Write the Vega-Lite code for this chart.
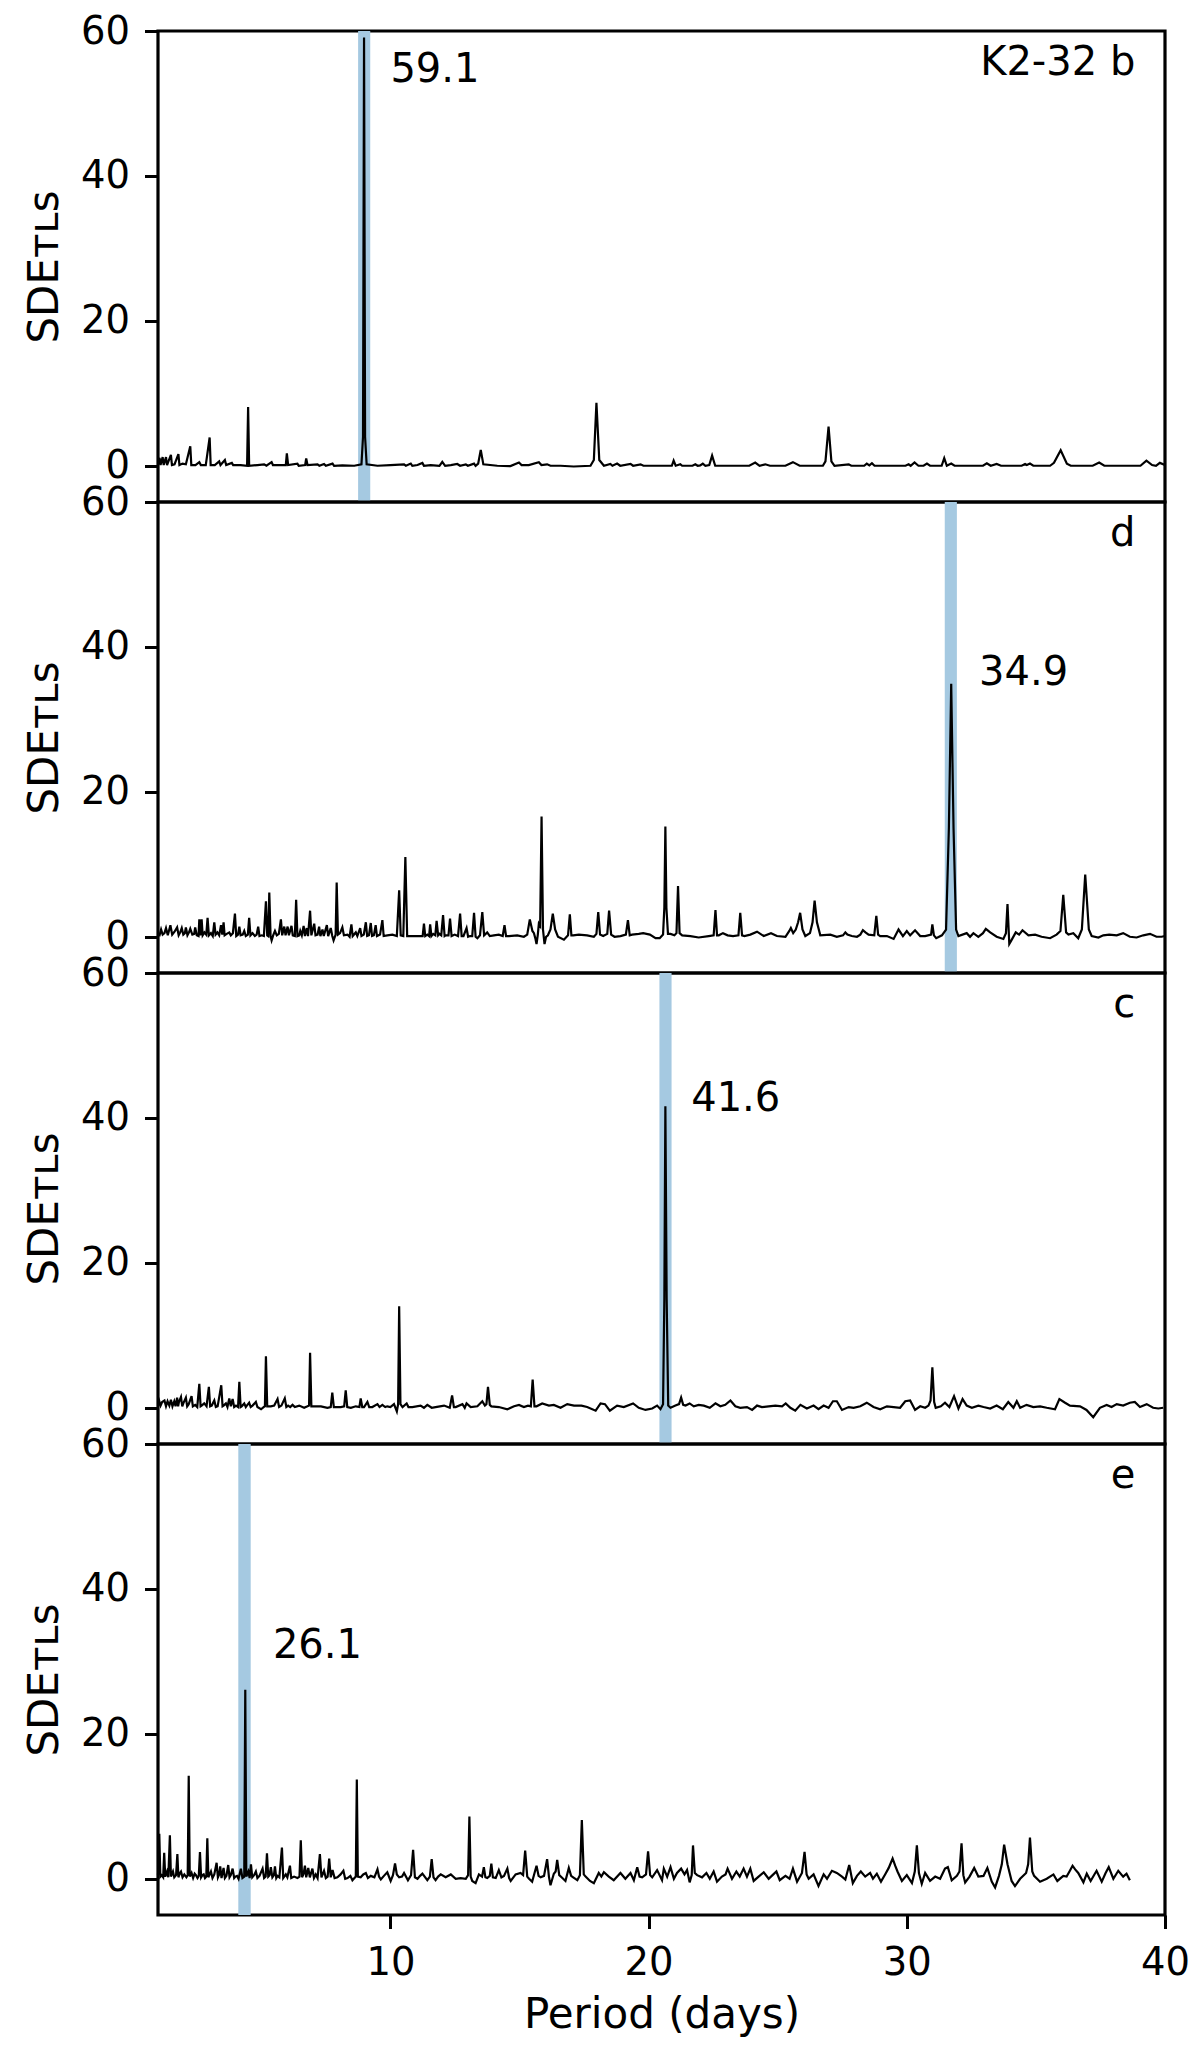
{
  "$schema": "https://vega.github.io/schema/vega-lite/v6.json",
  "padding": {"left": 21, "top": 10, "right": 12, "bottom": 10},
  "spacing": 0,
  "bounds": "flush",
  "config": {
    "font": "DejaVu Sans",
    "view": {"stroke": "black", "strokeWidth": 3.2},
    "axis": {
      "grid": false, "domain": false,
      "tickColor": "black", "tickWidth": 3, "tickSize": 13.5,
      "labelColor": "black", "labelFontSize": 38.5, "labelFlush": false, "labelOverlap": false,
      "titleColor": "black", "titleFontSize": 42, "titleFontWeight": "normal"
    },
    "text": {"fontSize": 40, "color": "black"}
  },
  "datasets": {
    "bands": [
      {"planet": "b", "lo": 8.75, "hi": 9.22},
      {"planet": "d", "lo": 31.47, "hi": 31.94},
      {"planet": "c", "lo": 20.42, "hi": 20.89},
      {"planet": "e", "lo": 4.11, "hi": 4.59}
    ],
    "notes": [
      {"planet": "b", "period": 10.0, "sde": 53.0, "label": "59.1"},
      {"planet": "d", "period": 32.8, "sde": 34.7, "label": "34.9"},
      {"planet": "c", "period": 21.65, "sde": 40.9, "label": "41.6"},
      {"planet": "e", "period": 5.45, "sde": 30.5, "label": "26.1"}
    ],
    "names": [
      {"planet": "b", "period": 38.85, "sde": 53.9, "label": "K2-32 b"},
      {"planet": "d", "period": 38.85, "sde": 53.9, "label": "d"},
      {"planet": "c", "period": 38.85, "sde": 53.9, "label": "c"},
      {"planet": "e", "period": 38.85, "sde": 53.9, "label": "e"}
    ],
    "tls_b": [
      {"period":1.00,"sde":0.1},{"period":1.06,"sde":1.1},{"period":1.10,"sde":0.1},{"period":1.18,"sde":1.2},{"period":1.22,"sde":0.1},{"period":1.31,"sde":1.2},{"period":1.35,"sde":0.1},{"period":1.50,"sde":1.5},{"period":1.54,"sde":0.1},{"period":1.64,"sde":0.2},{"period":1.79,"sde":1.6},{"period":1.83,"sde":0.1},{"period":1.95,"sde":0.3},{"period":2.08,"sde":0.2},{"period":2.25,"sde":2.7},{"period":2.29,"sde":0.1},{"period":2.45,"sde":0.1},{"period":2.60,"sde":0.5},{"period":2.66,"sde":0.1},{"period":2.85,"sde":0.1},{"period":3.00,"sde":3.9},{"period":3.04,"sde":0.1},{"period":3.20,"sde":0.1},{"period":3.37,"sde":0.6},{"period":3.42,"sde":0.1},{"period":3.59,"sde":0.8},{"period":3.64,"sde":0.1},{"period":3.86,"sde":0.4},{"period":3.91,"sde":0.1},{"period":4.20,"sde":0.1},{"period":4.45,"sde":0.0},{"period":4.49,"sde":8.1},{"period":4.53,"sde":0.0},{"period":4.85,"sde":0.1},{"period":5.11,"sde":0.2},{"period":5.20,"sde":0.0},{"period":5.40,"sde":0.5},{"period":5.45,"sde":0.1},{"period":5.70,"sde":0.1},{"period":5.95,"sde":0.1},{"period":5.99,"sde":1.7},{"period":6.04,"sde":0.1},{"period":6.40,"sde":0.3},{"period":6.45,"sde":0.0},{"period":6.70,"sde":0.1},{"period":6.74,"sde":1.0},{"period":6.79,"sde":0.1},{"period":7.18,"sde":0.2},{"period":7.25,"sde":0.0},{"period":7.43,"sde":0.25},{"period":7.50,"sde":0.0},{"period":7.76,"sde":0.3},{"period":7.82,"sde":0.0},{"period":8.14,"sde":0.05},{"period":8.60,"sde":0.0},{"period":8.88,"sde":0.2},{"period":8.94,"sde":4},{"period":8.98,"sde":59.1},{"period":9.02,"sde":4},{"period":9.08,"sde":0.2},{"period":9.50,"sde":0.0},{"period":10.0,"sde":0.1},{"period":10.53,"sde":0.2},{"period":10.6,"sde":0.0},{"period":10.79,"sde":0.3},{"period":10.85,"sde":0.0},{"period":11.05,"sde":0.1},{"period":11.24,"sde":0.4},{"period":11.3,"sde":0.0},{"period":11.56,"sde":0.1},{"period":11.9,"sde":0.0},{"period":12.01,"sde":0.55},{"period":12.12,"sde":0.0},{"period":12.34,"sde":0.1},{"period":12.59,"sde":0.25},{"period":12.7,"sde":0.0},{"period":12.92,"sde":0.2},{"period":13.0,"sde":0.0},{"period":13.24,"sde":0.3},{"period":13.3,"sde":0.0},{"period":13.40,"sde":0.3},{"period":13.50,"sde":2.2},{"period":13.60,"sde":0.2},{"period":14.14,"sde":0.0},{"period":14.65,"sde":-0.05},{"period":14.98,"sde":0.45},{"period":15.08,"sde":0.1},{"period":15.36,"sde":0.1},{"period":15.75,"sde":0.5},{"period":15.85,"sde":0.1},{"period":16.07,"sde":0.2},{"period":16.2,"sde":0.0},{"period":16.59,"sde":0.0},{"period":17.10,"sde":-0.1},{"period":17.75,"sde":0.0},{"period":17.88,"sde":0.8},{"period":17.98,"sde":8.7},{"period":18.09,"sde":0.8},{"period":18.27,"sde":0.0},{"period":18.52,"sde":0.25},{"period":18.6,"sde":0.0},{"period":18.78,"sde":0.3},{"period":18.9,"sde":0.0},{"period":19.30,"sde":0.25},{"period":19.4,"sde":0.0},{"period":19.69,"sde":0.2},{"period":19.8,"sde":0.0},{"period":20.9,"sde":0.0},{"period":20.97,"sde":0.7},{"period":21.05,"sde":0.0},{"period":21.23,"sde":0.2},{"period":21.3,"sde":0.0},{"period":21.7,"sde":0.0},{"period":21.81,"sde":0.2},{"period":21.9,"sde":0.0},{"period":22.0,"sde":0.05},{"period":22.10,"sde":0.3},{"period":22.2,"sde":0.0},{"period":22.35,"sde":0.1},{"period":22.46,"sde":1.4},{"period":22.58,"sde":0.0},{"period":23.9,"sde":0.0},{"period":24.13,"sde":0.45},{"period":24.3,"sde":0.0},{"period":24.52,"sde":0.2},{"period":24.7,"sde":0.0},{"period":25.3,"sde":0.0},{"period":25.59,"sde":0.5},{"period":25.85,"sde":0.0},{"period":26.75,"sde":0.0},{"period":26.85,"sde":0.6},{"period":26.97,"sde":5.4},{"period":27.08,"sde":0.6},{"period":27.2,"sde":0.0},{"period":27.75,"sde":0.2},{"period":27.85,"sde":0.0},{"period":28.35,"sde":0.0},{"period":28.45,"sde":0.3},{"period":28.55,"sde":0.05},{"period":28.65,"sde":0.35},{"period":28.75,"sde":0.0},{"period":29.95,"sde":0.0},{"period":30.07,"sde":0.2},{"period":30.15,"sde":0.0},{"period":30.30,"sde":0.45},{"period":30.45,"sde":0.0},{"period":30.65,"sde":0.0},{"period":30.78,"sde":0.3},{"period":30.9,"sde":0.0},{"period":31.35,"sde":0.0},{"period":31.45,"sde":1.05},{"period":31.55,"sde":0.0},{"period":31.72,"sde":0.3},{"period":31.85,"sde":0.0},{"period":32.95,"sde":0.0},{"period":33.10,"sde":0.35},{"period":33.25,"sde":0.0},{"period":33.48,"sde":0.25},{"period":33.65,"sde":0.0},{"period":34.45,"sde":0.0},{"period":34.58,"sde":0.25},{"period":34.65,"sde":0.1},{"period":34.77,"sde":0.3},{"period":34.9,"sde":0.0},{"period":35.55,"sde":0.0},{"period":35.7,"sde":0.4},{"period":35.96,"sde":2.15},{"period":36.2,"sde":0.3},{"period":36.35,"sde":0.0},{"period":37.2,"sde":0.0},{"period":37.45,"sde":0.45},{"period":37.65,"sde":0.0},{"period":39.05,"sde":0.0},{"period":39.28,"sde":0.7},{"period":39.5,"sde":0.1},{"period":39.65,"sde":0.0},{"period":39.8,"sde":0.4},{"period":40.0,"sde":0.1}
    ],
    "tls_d": [
      {"period":1.00,"sde":0.3},{"period":1.06,"sde":0.2},{"period":1.12,"sde":1.0},{"period":1.18,"sde":0.3},{"period":1.25,"sde":0.5},{"period":1.31,"sde":1.2},{"period":1.38,"sde":0.2},{"period":1.48,"sde":1.6},{"period":1.55,"sde":0.3},{"period":1.64,"sde":0.7},{"period":1.74,"sde":1.3},{"period":1.80,"sde":0.2},{"period":1.86,"sde":0.6},{"period":1.92,"sde":1.2},{"period":1.98,"sde":0.3},{"period":2.04,"sde":0.5},{"period":2.08,"sde":1.3},{"period":2.14,"sde":0.2},{"period":2.20,"sde":0.6},{"period":2.25,"sde":1.1},{"period":2.33,"sde":0.3},{"period":2.40,"sde":0.4},{"period":2.44,"sde":1.3},{"period":2.50,"sde":0.2},{"period":2.57,"sde":0.1},{"period":2.60,"sde":2.4},{"period":2.64,"sde":0.2},{"period":2.69,"sde":2.4},{"period":2.73,"sde":0.2},{"period":2.80,"sde":0.6},{"period":2.87,"sde":0.3},{"period":2.92,"sde":2.6},{"period":2.97,"sde":0.2},{"period":3.05,"sde":0.5},{"period":3.12,"sde":0.1},{"period":3.18,"sde":2.0},{"period":3.23,"sde":0.3},{"period":3.30,"sde":0.6},{"period":3.37,"sde":0.2},{"period":3.44,"sde":1.6},{"period":3.49,"sde":0.3},{"period":3.54,"sde":2.0},{"period":3.58,"sde":0.2},{"period":3.66,"sde":0.4},{"period":3.76,"sde":0.6},{"period":3.82,"sde":0.2},{"period":3.90,"sde":0.5},{"period":3.98,"sde":3.2},{"period":4.03,"sde":0.1},{"period":4.10,"sde":0.3},{"period":4.15,"sde":1.4},{"period":4.20,"sde":0.2},{"period":4.28,"sde":0.3},{"period":4.34,"sde":0.8},{"period":4.40,"sde":0.1},{"period":4.48,"sde":0.3},{"period":4.53,"sde":2.6},{"period":4.58,"sde":0.2},{"period":4.66,"sde":0.5},{"period":4.75,"sde":0.1},{"period":4.82,"sde":0.3},{"period":4.88,"sde":1.4},{"period":4.93,"sde":0.1},{"period":5.02,"sde":0.2},{"period":5.10,"sde":0.1},{"period":5.18,"sde":4.9},{"period":5.23,"sde":0.2},{"period":5.27,"sde":0.1},{"period":5.31,"sde":6.1},{"period":5.36,"sde":0.1},{"period":5.40,"sde":-0.5},{"period":5.46,"sde":0.2},{"period":5.53,"sde":0.8},{"period":5.60,"sde":0.2},{"period":5.68,"sde":0.4},{"period":5.76,"sde":2.4},{"period":5.81,"sde":0.2},{"period":5.89,"sde":1.4},{"period":5.94,"sde":0.2},{"period":6.02,"sde":1.4},{"period":6.07,"sde":0.2},{"period":6.17,"sde":1.5},{"period":6.22,"sde":0.2},{"period":6.30,"sde":0.1},{"period":6.35,"sde":5.1},{"period":6.40,"sde":0.1},{"period":6.47,"sde":0.2},{"period":6.51,"sde":0.8},{"period":6.57,"sde":0.2},{"period":6.64,"sde":1.5},{"period":6.69,"sde":0.1},{"period":6.76,"sde":1.2},{"period":6.81,"sde":0.1},{"period":6.89,"sde":3.6},{"period":6.94,"sde":0.2},{"period":7.05,"sde":1.8},{"period":7.10,"sde":0.2},{"period":7.18,"sde":0.3},{"period":7.24,"sde":1.4},{"period":7.29,"sde":0.1},{"period":7.37,"sde":1.0},{"period":7.42,"sde":0.1},{"period":7.54,"sde":1.6},{"period":7.59,"sde":0.1},{"period":7.69,"sde":1.2},{"period":7.75,"sde":0.1},{"period":7.80,"sde":-0.5},{"period":7.88,"sde":0.3},{"period":7.92,"sde":7.5},{"period":7.97,"sde":0.3},{"period":8.05,"sde":0.5},{"period":8.14,"sde":1.3},{"period":8.20,"sde":0.2},{"period":8.34,"sde":0.3},{"period":8.42,"sde":0.0},{"period":8.49,"sde":1.7},{"period":8.54,"sde":0.1},{"period":8.66,"sde":0.6},{"period":8.72,"sde":0.1},{"period":8.83,"sde":1.2},{"period":8.88,"sde":0.1},{"period":8.97,"sde":0.3},{"period":9.05,"sde":2.0},{"period":9.10,"sde":0.1},{"period":9.17,"sde":0.2},{"period":9.24,"sde":1.9},{"period":9.29,"sde":0.1},{"period":9.36,"sde":0.2},{"period":9.43,"sde":1.6},{"period":9.48,"sde":0.1},{"period":9.60,"sde":0.3},{"period":9.69,"sde":2.3},{"period":9.74,"sde":0.1},{"period":9.88,"sde":0.2},{"period":10.08,"sde":0.3},{"period":10.25,"sde":0.1},{"period":10.34,"sde":6.4},{"period":10.40,"sde":0.2},{"period":10.50,"sde":0.1},{"period":10.58,"sde":11.0},{"period":10.65,"sde":0.1},{"period":10.72,"sde":0.1},{"period":11.05,"sde":0.1},{"period":11.25,"sde":0.1},{"period":11.30,"sde":1.8},{"period":11.35,"sde":0.1},{"period":11.43,"sde":0.3},{"period":11.50,"sde":0.1},{"period":11.54,"sde":1.7},{"period":11.59,"sde":0.1},{"period":11.66,"sde":0.4},{"period":11.74,"sde":0.2},{"period":11.79,"sde":2.2},{"period":11.85,"sde":0.2},{"period":11.90,"sde":0.4},{"period":11.97,"sde":0.2},{"period":12.04,"sde":3.0},{"period":12.10,"sde":0.1},{"period":12.14,"sde":0.2},{"period":12.25,"sde":0.2},{"period":12.31,"sde":2.5},{"period":12.37,"sde":0.1},{"period":12.49,"sde":0.3},{"period":12.62,"sde":0.1},{"period":12.70,"sde":3.2},{"period":12.76,"sde":0.1},{"period":12.83,"sde":0.1},{"period":12.95,"sde":1.2},{"period":13.01,"sde":0.0},{"period":13.08,"sde":0.1},{"period":13.17,"sde":0.1},{"period":13.24,"sde":3.3},{"period":13.30,"sde":0.0},{"period":13.37,"sde":-0.2},{"period":13.47,"sde":0.2},{"period":13.56,"sde":3.4},{"period":13.63,"sde":0.2},{"period":13.75,"sde":0.6},{"period":13.85,"sde":0.1},{"period":14.01,"sde":0.2},{"period":14.20,"sde":0.3},{"period":14.35,"sde":0.1},{"period":14.42,"sde":1.6},{"period":14.48,"sde":0.1},{"period":14.59,"sde":0.1},{"period":14.91,"sde":0.2},{"period":15.17,"sde":0.0},{"period":15.30,"sde":0.3},{"period":15.40,"sde":2.4},{"period":15.50,"sde":0.8},{"period":15.56,"sde":0.5},{"period":15.62,"sde":-0.3},{"period":15.66,"sde":-1.0},{"period":15.71,"sde":0.3},{"period":15.75,"sde":1.8},{"period":15.80,"sde":1.5},{"period":15.855,"sde":16.6},{"period":15.91,"sde":1.0},{"period":15.97,"sde":-1.0},{"period":16.03,"sde":0.0},{"period":16.10,"sde":0.2},{"period":16.20,"sde":1.0},{"period":16.29,"sde":3.2},{"period":16.38,"sde":1.0},{"period":16.49,"sde":0.0},{"period":16.72,"sde":-0.4},{"period":16.88,"sde":0.2},{"period":16.95,"sde":3.1},{"period":17.01,"sde":0.2},{"period":17.08,"sde":0.2},{"period":17.30,"sde":0.3},{"period":17.62,"sde":0.2},{"period":17.88,"sde":0.0},{"period":17.98,"sde":0.4},{"period":18.05,"sde":3.4},{"period":18.12,"sde":0.3},{"period":18.24,"sde":0.1},{"period":18.40,"sde":0.4},{"period":18.47,"sde":3.6},{"period":18.55,"sde":0.3},{"period":18.68,"sde":0.0},{"period":18.91,"sde":0.1},{"period":19.12,"sde":0.3},{"period":19.20,"sde":2.3},{"period":19.27,"sde":0.2},{"period":19.36,"sde":0.3},{"period":19.62,"sde":0.4},{"period":19.79,"sde":0.5},{"period":20.05,"sde":0.3},{"period":20.27,"sde":-0.2},{"period":20.43,"sde":-0.2},{"period":20.56,"sde":0.3},{"period":20.61,"sde":4},{"period":20.65,"sde":15.2},{"period":20.69,"sde":4},{"period":20.75,"sde":0.4},{"period":20.85,"sde":0.4},{"period":21.00,"sde":0.2},{"period":21.08,"sde":0.5},{"period":21.14,"sde":7.0},{"period":21.20,"sde":0.5},{"period":21.30,"sde":0.2},{"period":21.62,"sde":0.1},{"period":21.94,"sde":-0.1},{"period":22.33,"sde":0.1},{"period":22.52,"sde":0.2},{"period":22.59,"sde":3.7},{"period":22.65,"sde":0.2},{"period":22.72,"sde":0.2},{"period":22.88,"sde":0.5},{"period":23.06,"sde":0.2},{"period":23.27,"sde":0.1},{"period":23.48,"sde":0.2},{"period":23.55,"sde":3.3},{"period":23.62,"sde":0.2},{"period":23.71,"sde":0.1},{"period":23.94,"sde":0.3},{"period":24.20,"sde":0.7},{"period":24.46,"sde":0.1},{"period":24.74,"sde":0.5},{"period":24.97,"sde":0.1},{"period":25.30,"sde":0.0},{"period":25.45,"sde":0.8},{"period":25.51,"sde":1.2},{"period":25.60,"sde":0.5},{"period":25.70,"sde":1.0},{"period":25.79,"sde":2.0},{"period":25.87,"sde":3.3},{"period":25.96,"sde":1.0},{"period":26.07,"sde":0.1},{"period":26.25,"sde":0.5},{"period":26.35,"sde":2.0},{"period":26.43,"sde":5.0},{"period":26.52,"sde":2.0},{"period":26.65,"sde":0.2},{"period":27.04,"sde":0.3},{"period":27.29,"sde":0.0},{"period":27.53,"sde":0.2},{"period":27.62,"sde":0.6},{"period":27.70,"sde":0.3},{"period":27.87,"sde":0.1},{"period":28.07,"sde":0.0},{"period":28.20,"sde":0.3},{"period":28.30,"sde":0.9},{"period":28.40,"sde":0.6},{"period":28.52,"sde":0.3},{"period":28.74,"sde":0.2},{"period":28.82,"sde":2.9},{"period":28.89,"sde":0.3},{"period":28.97,"sde":0.1},{"period":29.23,"sde":0.1},{"period":29.49,"sde":-0.3},{"period":29.68,"sde":1.0},{"period":29.85,"sde":0.1},{"period":30.00,"sde":0.8},{"period":30.13,"sde":0.2},{"period":30.32,"sde":0.9},{"period":30.52,"sde":0.1},{"period":30.71,"sde":0.1},{"period":30.94,"sde":0.3},{"period":30.99,"sde":1.7},{"period":31.05,"sde":0.2},{"period":31.14,"sde":-0.2},{"period":31.36,"sde":0.2},{"period":31.52,"sde":1.0},{"period":31.63,"sde":15},{"period":31.72,"sde":34.9},{"period":31.81,"sde":15},{"period":31.91,"sde":1.0},{"period":32.00,"sde":0.1},{"period":32.32,"sde":0.5},{"period":32.45,"sde":0.0},{"period":32.58,"sde":0.5},{"period":32.77,"sde":0.0},{"period":32.95,"sde":0.5},{"period":33.06,"sde":1.1},{"period":33.23,"sde":0.6},{"period":33.48,"sde":0.0},{"period":33.74,"sde":-0.3},{"period":33.84,"sde":0.5},{"period":33.90,"sde":4.5},{"period":33.97,"sde":-1.0},{"period":34.05,"sde":-0.5},{"period":34.22,"sde":0.6},{"period":34.35,"sde":0.3},{"period":34.48,"sde":0.9},{"period":34.71,"sde":0.2},{"period":34.97,"sde":0.3},{"period":35.22,"sde":0.0},{"period":35.55,"sde":-0.2},{"period":35.80,"sde":0.3},{"period":35.95,"sde":0.8},{"period":36.06,"sde":5.8},{"period":36.17,"sde":0.6},{"period":36.26,"sde":0.3},{"period":36.45,"sde":0.5},{"period":36.64,"sde":-0.2},{"period":36.78,"sde":1.0},{"period":36.91,"sde":8.6},{"period":37.05,"sde":1.0},{"period":37.16,"sde":0.1},{"period":37.42,"sde":-0.1},{"period":37.61,"sde":0.2},{"period":37.84,"sde":0.3},{"period":38.13,"sde":0.2},{"period":38.38,"sde":0.5},{"period":38.64,"sde":0.0},{"period":38.90,"sde":-0.1},{"period":39.16,"sde":0.2},{"period":39.42,"sde":0.4},{"period":39.67,"sde":0.0},{"period":39.87,"sde":0.0},{"period":40.0,"sde":0.1}
    ],
    "tls_c": [
      {"period":1.00,"sde":0.2},{"period":1.05,"sde":0.9},{"period":1.10,"sde":0.3},{"period":1.16,"sde":0.8},{"period":1.25,"sde":1.0},{"period":1.31,"sde":0.2},{"period":1.37,"sde":0.9},{"period":1.44,"sde":0.3},{"period":1.50,"sde":1.1},{"period":1.56,"sde":0.2},{"period":1.63,"sde":0.9},{"period":1.68,"sde":0.2},{"period":1.74,"sde":1.4},{"period":1.78,"sde":0.2},{"period":1.81,"sde":0.8},{"period":1.89,"sde":1.5},{"period":1.94,"sde":0.2},{"period":1.98,"sde":0.6},{"period":2.08,"sde":1.4},{"period":2.13,"sde":0.2},{"period":2.19,"sde":0.5},{"period":2.30,"sde":1.6},{"period":2.35,"sde":0.2},{"period":2.44,"sde":0.4},{"period":2.52,"sde":0.1},{"period":2.60,"sde":3.3},{"period":2.65,"sde":0.2},{"period":2.69,"sde":0.3},{"period":2.79,"sde":0.6},{"period":2.88,"sde":0.2},{"period":2.97,"sde":2.9},{"period":3.02,"sde":0.2},{"period":3.08,"sde":0.3},{"period":3.18,"sde":1.0},{"period":3.24,"sde":0.1},{"period":3.31,"sde":0.2},{"period":3.45,"sde":3.1},{"period":3.50,"sde":0.2},{"period":3.54,"sde":0.3},{"period":3.63,"sde":0.6},{"period":3.69,"sde":0.1},{"period":3.76,"sde":1.3},{"period":3.82,"sde":0.2},{"period":3.89,"sde":1.2},{"period":3.95,"sde":0.1},{"period":4.02,"sde":0.3},{"period":4.10,"sde":0.1},{"period":4.15,"sde":3.6},{"period":4.20,"sde":0.1},{"period":4.24,"sde":0.2},{"period":4.34,"sde":0.6},{"period":4.40,"sde":0.1},{"period":4.44,"sde":0.3},{"period":4.53,"sde":0.7},{"period":4.59,"sde":0.1},{"period":4.66,"sde":0.3},{"period":4.79,"sde":0.8},{"period":4.85,"sde":0.1},{"period":4.99,"sde":-0.2},{"period":5.09,"sde":0.1},{"period":5.14,"sde":0.2},{"period":5.18,"sde":7.1},{"period":5.23,"sde":0.2},{"period":5.37,"sde":0.2},{"period":5.50,"sde":0.3},{"period":5.63,"sde":1.2},{"period":5.69,"sde":0.1},{"period":5.78,"sde":0.3},{"period":5.91,"sde":1.3},{"period":5.97,"sde":0.1},{"period":6.04,"sde":0.3},{"period":6.12,"sde":0.1},{"period":6.21,"sde":0.4},{"period":6.30,"sde":0.1},{"period":6.47,"sde":0.3},{"period":6.66,"sde":0.0},{"period":6.79,"sde":0.2},{"period":6.85,"sde":0.3},{"period":6.89,"sde":7.6},{"period":6.94,"sde":0.2},{"period":7.05,"sde":0.2},{"period":7.31,"sde":0.2},{"period":7.56,"sde":0.0},{"period":7.69,"sde":0.1},{"period":7.75,"sde":2.1},{"period":7.81,"sde":0.1},{"period":7.89,"sde":0.1},{"period":8.08,"sde":0.1},{"period":8.21,"sde":0.2},{"period":8.27,"sde":2.4},{"period":8.33,"sde":0.1},{"period":8.47,"sde":0.0},{"period":8.66,"sde":0.2},{"period":8.80,"sde":0.1},{"period":8.85,"sde":1.3},{"period":8.91,"sde":0.1},{"period":8.98,"sde":0.1},{"period":9.11,"sde":0.8},{"period":9.18,"sde":0.1},{"period":9.30,"sde":0.1},{"period":9.50,"sde":0.5},{"period":9.58,"sde":0.1},{"period":9.69,"sde":0.4},{"period":9.80,"sde":0.1},{"period":9.88,"sde":0.2},{"period":10.00,"sde":0.1},{"period":10.14,"sde":0.5},{"period":10.25,"sde":-0.5},{"period":10.30,"sde":0.5},{"period":10.34,"sde":14.0},{"period":10.39,"sde":0.5},{"period":10.47,"sde":0.1},{"period":10.63,"sde":0.6},{"period":10.70,"sde":0.1},{"period":10.85,"sde":0.1},{"period":11.17,"sde":0.3},{"period":11.30,"sde":0.0},{"period":11.43,"sde":0.4},{"period":11.60,"sde":0.0},{"period":11.75,"sde":0.1},{"period":12.08,"sde":0.3},{"period":12.30,"sde":0.0},{"period":12.39,"sde":1.7},{"period":12.46,"sde":0.1},{"period":12.53,"sde":0.1},{"period":12.79,"sde":0.5},{"period":12.88,"sde":0.0},{"period":12.95,"sde":0.6},{"period":13.11,"sde":0.1},{"period":13.37,"sde":0.2},{"period":13.56,"sde":0.9},{"period":13.66,"sde":0.3},{"period":13.72,"sde":0.5},{"period":13.78,"sde":2.9},{"period":13.85,"sde":0.4},{"period":13.91,"sde":0.2},{"period":14.20,"sde":0.1},{"period":14.53,"sde":-0.2},{"period":14.79,"sde":0.2},{"period":14.98,"sde":0.4},{"period":15.17,"sde":0.1},{"period":15.33,"sde":0.3},{"period":15.44,"sde":0.2},{"period":15.51,"sde":3.9},{"period":15.58,"sde":0.2},{"period":15.66,"sde":0.2},{"period":15.88,"sde":0.6},{"period":16.14,"sde":0.3},{"period":16.33,"sde":0.4},{"period":16.59,"sde":0.0},{"period":16.85,"sde":0.5},{"period":17.11,"sde":0.3},{"period":17.40,"sde":0.3},{"period":17.62,"sde":0.1},{"period":17.95,"sde":-0.4},{"period":18.14,"sde":0.6},{"period":18.31,"sde":0.5},{"period":18.50,"sde":-0.4},{"period":18.78,"sde":0.3},{"period":19.04,"sde":0.1},{"period":19.40,"sde":0.6},{"period":19.62,"sde":0.0},{"period":19.88,"sde":-0.3},{"period":20.14,"sde":-0.1},{"period":20.33,"sde":0.3},{"period":20.46,"sde":-0.2},{"period":20.56,"sde":0.5},{"period":20.61,"sde":15},{"period":20.65,"sde":41.6},{"period":20.70,"sde":15},{"period":20.76,"sde":0.3},{"period":20.85,"sde":0.0},{"period":21.04,"sde":0.3},{"period":21.18,"sde":0.5},{"period":21.26,"sde":1.4},{"period":21.34,"sde":0.4},{"period":21.43,"sde":0.3},{"period":21.59,"sde":0.6},{"period":21.75,"sde":0.2},{"period":21.94,"sde":0.4},{"period":22.14,"sde":0.3},{"period":22.37,"sde":0.0},{"period":22.59,"sde":0.6},{"period":22.78,"sde":0.2},{"period":22.97,"sde":0.4},{"period":23.17,"sde":1.0},{"period":23.36,"sde":0.2},{"period":23.55,"sde":0.0},{"period":23.81,"sde":0.1},{"period":24.01,"sde":-0.3},{"period":24.20,"sde":0.3},{"period":24.39,"sde":0.1},{"period":24.65,"sde":0.2},{"period":24.91,"sde":0.3},{"period":25.17,"sde":0.2},{"period":25.31,"sde":0.6},{"period":25.49,"sde":0.0},{"period":25.68,"sde":-0.4},{"period":25.88,"sde":0.4},{"period":26.13,"sde":-0.1},{"period":26.39,"sde":0.3},{"period":26.58,"sde":-0.2},{"period":26.78,"sde":0.3},{"period":26.97,"sde":0.0},{"period":27.14,"sde":0.9},{"period":27.29,"sde":0.9},{"period":27.49,"sde":-0.3},{"period":27.75,"sde":0.1},{"period":27.94,"sde":0.0},{"period":28.20,"sde":0.2},{"period":28.45,"sde":0.7},{"period":28.71,"sde":0.1},{"period":28.97,"sde":-0.2},{"period":29.23,"sde":0.2},{"period":29.49,"sde":0.1},{"period":29.74,"sde":0.0},{"period":29.94,"sde":0.9},{"period":30.13,"sde":1.0},{"period":30.32,"sde":-0.3},{"period":30.52,"sde":0.2},{"period":30.71,"sde":0.0},{"period":30.84,"sde":0.3},{"period":30.92,"sde":1.0},{"period":30.99,"sde":5.6},{"period":31.06,"sde":0.8},{"period":31.12,"sde":0.0},{"period":31.32,"sde":0.2},{"period":31.48,"sde":0.7},{"period":31.65,"sde":0.1},{"period":31.83,"sde":1.6},{"period":32.00,"sde":-0.1},{"period":32.16,"sde":1.2},{"period":32.32,"sde":0.3},{"period":32.52,"sde":0.0},{"period":32.77,"sde":0.3},{"period":32.97,"sde":0.1},{"period":33.23,"sde":-0.1},{"period":33.48,"sde":0.3},{"period":33.72,"sde":-0.2},{"period":33.93,"sde":0.8},{"period":34.13,"sde":0.0},{"period":34.26,"sde":0.9},{"period":34.39,"sde":0.0},{"period":34.64,"sde":0.4},{"period":34.90,"sde":0.1},{"period":35.16,"sde":0.2},{"period":35.42,"sde":0.0},{"period":35.74,"sde":-0.2},{"period":35.91,"sde":1.2},{"period":36.13,"sde":0.7},{"period":36.32,"sde":0.3},{"period":36.71,"sde":0.2},{"period":36.96,"sde":-0.3},{"period":37.22,"sde":-1.3},{"period":37.48,"sde":0.0},{"period":37.74,"sde":0.4},{"period":37.93,"sde":0.1},{"period":38.13,"sde":0.5},{"period":38.38,"sde":0.3},{"period":38.64,"sde":0.7},{"period":38.83,"sde":0.8},{"period":39.03,"sde":0.1},{"period":39.29,"sde":0.5},{"period":39.54,"sde":0.0},{"period":39.74,"sde":-0.1},{"period":39.93,"sde":0.0}
    ],
    "tls_e": [
      {"period":1.00,"sde":0.5},{"period":1.05,"sde":6.2},{"period":1.09,"sde":0.3},{"period":1.14,"sde":0.5},{"period":1.20,"sde":0.2},{"period":1.24,"sde":3.6},{"period":1.28,"sde":0.3},{"period":1.35,"sde":1.0},{"period":1.40,"sde":0.2},{"period":1.46,"sde":6.0},{"period":1.50,"sde":0.3},{"period":1.58,"sde":1.0},{"period":1.63,"sde":0.2},{"period":1.70,"sde":0.5},{"period":1.75,"sde":3.4},{"period":1.79,"sde":0.2},{"period":1.85,"sde":0.8},{"period":1.89,"sde":1.0},{"period":1.95,"sde":0.2},{"period":2.02,"sde":0.6},{"period":2.10,"sde":0.2},{"period":2.15,"sde":0.5},{"period":2.19,"sde":14.2},{"period":2.23,"sde":0.3},{"period":2.30,"sde":0.8},{"period":2.36,"sde":0.1},{"period":2.42,"sde":0.7},{"period":2.47,"sde":0.5},{"period":2.53,"sde":0.1},{"period":2.58,"sde":0.4},{"period":2.625,"sde":3.7},{"period":2.67,"sde":0.2},{"period":2.72,"sde":0.5},{"period":2.77,"sde":0.6},{"period":2.82,"sde":0.1},{"period":2.87,"sde":0.3},{"period":2.91,"sde":5.6},{"period":2.95,"sde":0.2},{"period":3.00,"sde":0.6},{"period":3.05,"sde":1.0},{"period":3.11,"sde":0.1},{"period":3.18,"sde":0.6},{"period":3.27,"sde":2.2},{"period":3.32,"sde":0.2},{"period":3.37,"sde":0.6},{"period":3.41,"sde":1.7},{"period":3.46,"sde":0.1},{"period":3.54,"sde":1.5},{"period":3.59,"sde":0.1},{"period":3.65,"sde":0.4},{"period":3.72,"sde":1.9},{"period":3.77,"sde":0.2},{"period":3.82,"sde":0.5},{"period":3.89,"sde":1.4},{"period":3.95,"sde":0.1},{"period":4.00,"sde":0.3},{"period":4.06,"sde":0.4},{"period":4.12,"sde":0.0},{"period":4.21,"sde":1.4},{"period":4.27,"sde":0.1},{"period":4.34,"sde":0.3},{"period":4.38,"sde":26.1},{"period":4.42,"sde":0.3},{"period":4.50,"sde":1.0},{"period":4.55,"sde":0.1},{"period":4.60,"sde":2.0},{"period":4.65,"sde":0.2},{"period":4.72,"sde":0.5},{"period":4.79,"sde":1.0},{"period":4.85,"sde":0.1},{"period":4.93,"sde":0.4},{"period":5.05,"sde":1.4},{"period":5.11,"sde":0.1},{"period":5.17,"sde":0.3},{"period":5.22,"sde":3.5},{"period":5.27,"sde":0.3},{"period":5.32,"sde":0.5},{"period":5.37,"sde":1.6},{"period":5.43,"sde":0.2},{"period":5.49,"sde":0.5},{"period":5.53,"sde":1.7},{"period":5.58,"sde":0.1},{"period":5.63,"sde":0.4},{"period":5.70,"sde":0.2},{"period":5.80,"sde":4.3},{"period":5.85,"sde":0.1},{"period":5.95,"sde":0.6},{"period":6.01,"sde":0.2},{"period":6.11,"sde":1.8},{"period":6.16,"sde":0.1},{"period":6.27,"sde":0.3},{"period":6.40,"sde":0.1},{"period":6.48,"sde":0.3},{"period":6.53,"sde":5.3},{"period":6.58,"sde":0.2},{"period":6.64,"sde":0.7},{"period":6.69,"sde":1.8},{"period":6.74,"sde":0.2},{"period":6.82,"sde":1.5},{"period":6.88,"sde":0.2},{"period":6.98,"sde":1.4},{"period":7.04,"sde":0.1},{"period":7.11,"sde":0.6},{"period":7.18,"sde":0.1},{"period":7.27,"sde":3.4},{"period":7.33,"sde":0.2},{"period":7.43,"sde":1.1},{"period":7.50,"sde":0.1},{"period":7.57,"sde":0.3},{"period":7.63,"sde":2.8},{"period":7.69,"sde":0.2},{"period":7.76,"sde":1.2},{"period":7.84,"sde":0.1},{"period":7.95,"sde":0.2},{"period":8.07,"sde":0.6},{"period":8.18,"sde":1.1},{"period":8.25,"sde":0.0},{"period":8.34,"sde":0.1},{"period":8.45,"sde":0.4},{"period":8.53,"sde":-0.2},{"period":8.66,"sde":0.3},{"period":8.70,"sde":13.7},{"period":8.74,"sde":0.3},{"period":8.85,"sde":0.2},{"period":8.95,"sde":0.6},{"period":9.05,"sde":0.8},{"period":9.13,"sde":0.1},{"period":9.24,"sde":0.4},{"period":9.38,"sde":0.2},{"period":9.50,"sde":1.3},{"period":9.56,"sde":0.3},{"period":9.63,"sde":-0.1},{"period":9.75,"sde":0.4},{"period":9.88,"sde":0.9},{"period":10.01,"sde":-0.3},{"period":10.10,"sde":0.5},{"period":10.18,"sde":2.1},{"period":10.25,"sde":0.6},{"period":10.34,"sde":0.2},{"period":10.45,"sde":0.3},{"period":10.53,"sde":0.8},{"period":10.68,"sde":-0.2},{"period":10.80,"sde":0.5},{"period":10.88,"sde":4.0},{"period":10.95,"sde":0.2},{"period":11.05,"sde":0.0},{"period":11.15,"sde":0.4},{"period":11.24,"sde":0.7},{"period":11.43,"sde":-0.2},{"period":11.53,"sde":0.3},{"period":11.60,"sde":2.7},{"period":11.67,"sde":0.2},{"period":11.75,"sde":-0.2},{"period":11.85,"sde":0.3},{"period":11.95,"sde":0.6},{"period":12.14,"sde":0.2},{"period":12.34,"sde":0.6},{"period":12.53,"sde":0.0},{"period":12.72,"sde":0.1},{"period":12.92,"sde":0.0},{"period":13.01,"sde":0.5},{"period":13.06,"sde":8.6},{"period":13.11,"sde":0.3},{"period":13.17,"sde":-0.3},{"period":13.30,"sde":-0.6},{"period":13.43,"sde":0.6},{"period":13.55,"sde":0.3},{"period":13.62,"sde":1.6},{"period":13.68,"sde":0.2},{"period":13.75,"sde":0.1},{"period":13.85,"sde":0.4},{"period":13.91,"sde":2.1},{"period":13.97,"sde":0.2},{"period":14.08,"sde":0.1},{"period":14.20,"sde":1.2},{"period":14.30,"sde":0.2},{"period":14.40,"sde":0.4},{"period":14.53,"sde":1.4},{"period":14.60,"sde":0.1},{"period":14.66,"sde":-0.3},{"period":14.85,"sde":0.6},{"period":15.04,"sde":0.8},{"period":15.14,"sde":0.5},{"period":15.22,"sde":3.9},{"period":15.30,"sde":0.3},{"period":15.37,"sde":0.0},{"period":15.49,"sde":-0.4},{"period":15.66,"sde":1.8},{"period":15.74,"sde":0.4},{"period":15.82,"sde":0.2},{"period":15.95,"sde":0.4},{"period":16.07,"sde":2.7},{"period":16.14,"sde":0.3},{"period":16.20,"sde":-0.9},{"period":16.33,"sde":0.7},{"period":16.40,"sde":1.0},{"period":16.46,"sde":2.6},{"period":16.54,"sde":0.5},{"period":16.63,"sde":0.2},{"period":16.78,"sde":-0.3},{"period":16.91,"sde":1.5},{"period":17.00,"sde":0.4},{"period":17.08,"sde":0.2},{"period":17.24,"sde":-0.2},{"period":17.34,"sde":0.5},{"period":17.415,"sde":8.1},{"period":17.49,"sde":0.6},{"period":17.56,"sde":0.3},{"period":17.73,"sde":-0.3},{"period":17.88,"sde":-0.6},{"period":18.07,"sde":0.8},{"period":18.17,"sde":0.3},{"period":18.27,"sde":0.9},{"period":18.46,"sde":0.3},{"period":18.65,"sde":-0.2},{"period":18.91,"sde":0.8},{"period":19.10,"sde":0.0},{"period":19.30,"sde":0.8},{"period":19.43,"sde":-0.2},{"period":19.56,"sde":1.6},{"period":19.65,"sde":0.3},{"period":19.75,"sde":0.2},{"period":19.90,"sde":0.6},{"period":19.98,"sde":3.8},{"period":20.06,"sde":0.5},{"period":20.14,"sde":0.2},{"period":20.33,"sde":1.2},{"period":20.52,"sde":-0.2},{"period":20.59,"sde":1.4},{"period":20.72,"sde":0.3},{"period":20.85,"sde":1.6},{"period":20.98,"sde":0.0},{"period":21.10,"sde":0.8},{"period":21.26,"sde":1.4},{"period":21.39,"sde":0.6},{"period":21.49,"sde":1.2},{"period":21.59,"sde":-0.5},{"period":21.67,"sde":0.5},{"period":21.72,"sde":4.6},{"period":21.79,"sde":0.8},{"period":21.88,"sde":0.5},{"period":22.07,"sde":0.2},{"period":22.24,"sde":0.8},{"period":22.37,"sde":0.0},{"period":22.52,"sde":1.0},{"period":22.65,"sde":-0.4},{"period":22.84,"sde":0.3},{"period":22.98,"sde":0.6},{"period":23.06,"sde":1.4},{"period":23.23,"sde":0.0},{"period":23.40,"sde":1.0},{"period":23.53,"sde":0.3},{"period":23.68,"sde":1.4},{"period":23.81,"sde":0.3},{"period":23.94,"sde":1.4},{"period":24.07,"sde":-0.3},{"period":24.26,"sde":0.3},{"period":24.46,"sde":0.9},{"period":24.65,"sde":0.0},{"period":24.80,"sde":0.5},{"period":24.95,"sde":1.0},{"period":25.08,"sde":-0.2},{"period":25.30,"sde":0.4},{"period":25.46,"sde":0.0},{"period":25.59,"sde":1.4},{"period":25.75,"sde":-0.4},{"period":25.94,"sde":0.8},{"period":26.04,"sde":3.7},{"period":26.12,"sde":0.6},{"period":26.20,"sde":0.0},{"period":26.39,"sde":0.6},{"period":26.58,"sde":-1.0},{"period":26.78,"sde":0.6},{"period":26.91,"sde":0.0},{"period":27.10,"sde":1.1},{"period":27.29,"sde":0.8},{"period":27.49,"sde":0.3},{"period":27.62,"sde":-0.1},{"period":27.77,"sde":1.9},{"period":27.91,"sde":-0.6},{"period":28.07,"sde":0.4},{"period":28.22,"sde":1.0},{"period":28.39,"sde":0.3},{"period":28.58,"sde":0.8},{"period":28.69,"sde":0.0},{"period":28.84,"sde":0.7},{"period":29.00,"sde":-0.4},{"period":29.16,"sde":0.6},{"period":29.30,"sde":1.5},{"period":29.45,"sde":2.8},{"period":29.55,"sde":1.8},{"period":29.64,"sde":1.0},{"period":29.81,"sde":-0.3},{"period":30.00,"sde":0.5},{"period":30.20,"sde":-0.6},{"period":30.31,"sde":1.0},{"period":30.39,"sde":4.6},{"period":30.47,"sde":0.8},{"period":30.58,"sde":-0.7},{"period":30.71,"sde":0.8},{"period":30.90,"sde":-0.3},{"period":31.10,"sde":0.3},{"period":31.29,"sde":0.0},{"period":31.48,"sde":1.4},{"period":31.59,"sde":1.6},{"period":31.74,"sde":-0.2},{"period":31.94,"sde":0.4},{"period":32.04,"sde":1.0},{"period":32.12,"sde":4.9},{"period":32.19,"sde":0.5},{"period":32.26,"sde":-0.5},{"period":32.43,"sde":0.3},{"period":32.61,"sde":1.5},{"period":32.77,"sde":0.3},{"period":32.97,"sde":0.4},{"period":33.12,"sde":1.5},{"period":33.29,"sde":-0.4},{"period":33.42,"sde":-1.2},{"period":33.57,"sde":0.4},{"period":33.68,"sde":2.0},{"period":33.77,"sde":4.7},{"period":33.90,"sde":2.0},{"period":34.06,"sde":-0.3},{"period":34.19,"sde":-1.0},{"period":34.39,"sde":0.0},{"period":34.62,"sde":0.8},{"period":34.70,"sde":2.0},{"period":34.77,"sde":5.7},{"period":34.86,"sde":1.0},{"period":34.93,"sde":0.4},{"period":35.16,"sde":-0.4},{"period":35.42,"sde":0.0},{"period":35.68,"sde":0.6},{"period":35.83,"sde":-0.3},{"period":36.06,"sde":0.4},{"period":36.19,"sde":0.3},{"period":36.30,"sde":1.0},{"period":36.42,"sde":1.8},{"period":36.52,"sde":1.3},{"period":36.64,"sde":0.8},{"period":36.84,"sde":-0.5},{"period":36.97,"sde":0.7},{"period":37.12,"sde":-0.3},{"period":37.35,"sde":1.1},{"period":37.55,"sde":-0.4},{"period":37.70,"sde":0.8},{"period":37.82,"sde":1.6},{"period":38.00,"sde":0.0},{"period":38.19,"sde":1.1},{"period":38.38,"sde":0.3},{"period":38.51,"sde":0.7},{"period":38.64,"sde":-0.2}
    ]
  },
  "vconcat": [
    {
      "width": 1007, "height": 471,
      "layer": [
        {"data": {"name": "bands"}, "transform": [{"filter": "datum.planet == 'b'"}],
         "mark": {"type": "rect", "color": "#a5c9e1"},
         "encoding": {
           "x": {"field": "lo", "type": "quantitative", "scale": {"domain": [1, 40], "nice": false, "zero": false}, "axis": null},
           "x2": {"field": "hi"},
           "y": {"datum": -5, "type": "quantitative", "scale": {"domain": [-5, 60], "nice": false}},
           "y2": {"datum": 60}}},
        {"data": {"name": "tls_b"},
         "mark": {"type": "line", "color": "black", "strokeWidth": 2.2},
         "encoding": {
           "x": {"field": "period", "type": "quantitative", "scale": {"domain": [1, 40], "nice": false, "zero": false}, "axis": null},
           "y": {"field": "sde", "type": "quantitative", "scale": {"domain": [-5, 60], "nice": false},
                 "axis": {"title": "SDEᴛʟꜱ", "values": [0, 20, 40, 60], "labelPadding": 15, "titlePadding": 14}}}},
        {"data": {"name": "notes"}, "transform": [{"filter": "datum.planet == 'b'"}],
         "mark": {"type": "text", "align": "left", "baseline": "alphabetic"},
         "encoding": {
           "x": {"field": "period", "type": "quantitative", "axis": null},
           "y": {"field": "sde", "type": "quantitative"},
           "text": {"field": "label"}}},
        {"data": {"name": "names"}, "transform": [{"filter": "datum.planet == 'b'"}],
         "mark": {"type": "text", "align": "right", "baseline": "alphabetic"},
         "encoding": {
           "x": {"field": "period", "type": "quantitative", "axis": null},
           "y": {"field": "sde", "type": "quantitative"},
           "text": {"field": "label"}}}
      ]
    },
    {
      "width": 1007, "height": 471,
      "layer": [
        {"data": {"name": "bands"}, "transform": [{"filter": "datum.planet == 'd'"}],
         "mark": {"type": "rect", "color": "#a5c9e1"},
         "encoding": {
           "x": {"field": "lo", "type": "quantitative", "scale": {"domain": [1, 40], "nice": false, "zero": false}, "axis": null},
           "x2": {"field": "hi"},
           "y": {"datum": -5, "type": "quantitative", "scale": {"domain": [-5, 60], "nice": false}},
           "y2": {"datum": 60}}},
        {"data": {"name": "tls_d"},
         "mark": {"type": "line", "color": "black", "strokeWidth": 2.2},
         "encoding": {
           "x": {"field": "period", "type": "quantitative", "scale": {"domain": [1, 40], "nice": false, "zero": false}, "axis": null},
           "y": {"field": "sde", "type": "quantitative", "scale": {"domain": [-5, 60], "nice": false},
                 "axis": {"title": "SDEᴛʟꜱ", "values": [0, 20, 40, 60], "labelPadding": 15, "titlePadding": 14}}}},
        {"data": {"name": "notes"}, "transform": [{"filter": "datum.planet == 'd'"}],
         "mark": {"type": "text", "align": "left", "baseline": "alphabetic"},
         "encoding": {
           "x": {"field": "period", "type": "quantitative", "axis": null},
           "y": {"field": "sde", "type": "quantitative"},
           "text": {"field": "label"}}},
        {"data": {"name": "names"}, "transform": [{"filter": "datum.planet == 'd'"}],
         "mark": {"type": "text", "align": "right", "baseline": "alphabetic"},
         "encoding": {
           "x": {"field": "period", "type": "quantitative", "axis": null},
           "y": {"field": "sde", "type": "quantitative"},
           "text": {"field": "label"}}}
      ]
    },
    {
      "width": 1007, "height": 471,
      "layer": [
        {"data": {"name": "bands"}, "transform": [{"filter": "datum.planet == 'c'"}],
         "mark": {"type": "rect", "color": "#a5c9e1"},
         "encoding": {
           "x": {"field": "lo", "type": "quantitative", "scale": {"domain": [1, 40], "nice": false, "zero": false}, "axis": null},
           "x2": {"field": "hi"},
           "y": {"datum": -5, "type": "quantitative", "scale": {"domain": [-5, 60], "nice": false}},
           "y2": {"datum": 60}}},
        {"data": {"name": "tls_c"},
         "mark": {"type": "line", "color": "black", "strokeWidth": 2.2},
         "encoding": {
           "x": {"field": "period", "type": "quantitative", "scale": {"domain": [1, 40], "nice": false, "zero": false}, "axis": null},
           "y": {"field": "sde", "type": "quantitative", "scale": {"domain": [-5, 60], "nice": false},
                 "axis": {"title": "SDEᴛʟꜱ", "values": [0, 20, 40, 60], "labelPadding": 15, "titlePadding": 14}}}},
        {"data": {"name": "notes"}, "transform": [{"filter": "datum.planet == 'c'"}],
         "mark": {"type": "text", "align": "left", "baseline": "alphabetic"},
         "encoding": {
           "x": {"field": "period", "type": "quantitative", "axis": null},
           "y": {"field": "sde", "type": "quantitative"},
           "text": {"field": "label"}}},
        {"data": {"name": "names"}, "transform": [{"filter": "datum.planet == 'c'"}],
         "mark": {"type": "text", "align": "right", "baseline": "alphabetic"},
         "encoding": {
           "x": {"field": "period", "type": "quantitative", "axis": null},
           "y": {"field": "sde", "type": "quantitative"},
           "text": {"field": "label"}}}
      ]
    },
    {
      "width": 1007, "height": 471,
      "layer": [
        {"data": {"name": "bands"}, "transform": [{"filter": "datum.planet == 'e'"}],
         "mark": {"type": "rect", "color": "#a5c9e1"},
         "encoding": {
           "x": {"field": "lo", "type": "quantitative", "scale": {"domain": [1, 40], "nice": false, "zero": false}},
           "x2": {"field": "hi"},
           "y": {"datum": -5, "type": "quantitative", "scale": {"domain": [-5, 60], "nice": false}},
           "y2": {"datum": 60}}},
        {"data": {"name": "tls_e"},
         "mark": {"type": "line", "color": "black", "strokeWidth": 2.2},
         "encoding": {
           "x": {"field": "period", "type": "quantitative", "scale": {"domain": [1, 40], "nice": false, "zero": false},
                 "axis": {"title": "Period (days)", "values": [10, 20, 30, 40], "labelPadding": 16, "titlePadding": 12}},
           "y": {"field": "sde", "type": "quantitative", "scale": {"domain": [-5, 60], "nice": false},
                 "axis": {"title": "SDEᴛʟꜱ", "values": [0, 20, 40, 60], "labelPadding": 15, "titlePadding": 14}}}},
        {"data": {"name": "notes"}, "transform": [{"filter": "datum.planet == 'e'"}],
         "mark": {"type": "text", "align": "left", "baseline": "alphabetic"},
         "encoding": {
           "x": {"field": "period", "type": "quantitative"},
           "y": {"field": "sde", "type": "quantitative"},
           "text": {"field": "label"}}},
        {"data": {"name": "names"}, "transform": [{"filter": "datum.planet == 'e'"}],
         "mark": {"type": "text", "align": "right", "baseline": "alphabetic"},
         "encoding": {
           "x": {"field": "period", "type": "quantitative"},
           "y": {"field": "sde", "type": "quantitative"},
           "text": {"field": "label"}}}
      ]
    }
  ]
}
